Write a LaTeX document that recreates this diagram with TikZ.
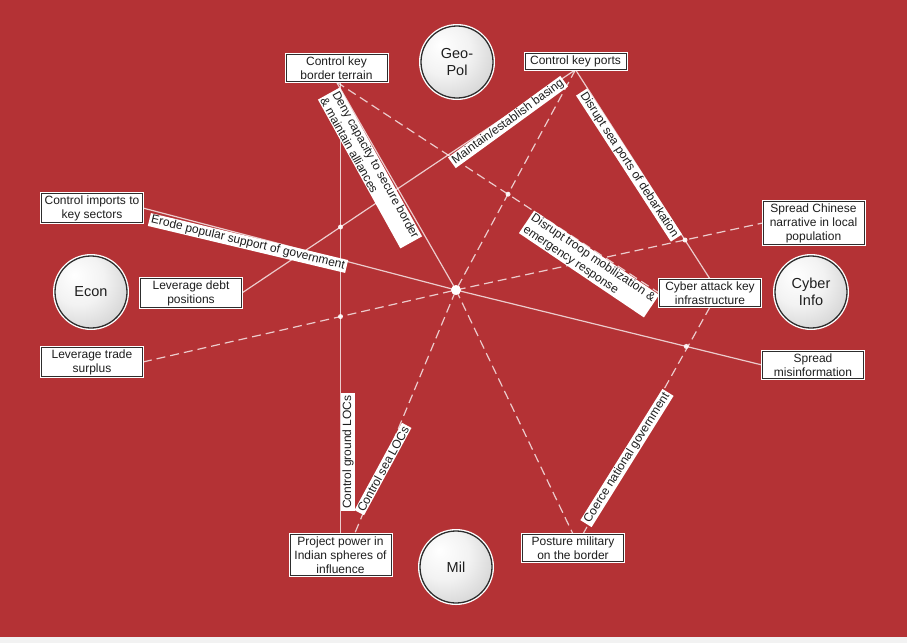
\documentclass[tikz,border=0pt]{standalone}
\usepackage{fontspec}
\setmainfont{Liberation Sans}
\usetikzlibrary{calc}
\definecolor{bgred}{RGB}{180,50,53}
\definecolor{ink}{RGB}{30,30,30}
\definecolor{rim}{RGB}{45,45,45}
\definecolor{stripgray}{RGB}{242,242,242}
\pgfdeclareradialshading{sphere}{\pgfpoint{-12bp}{12bp}}{%
  color(0bp)=(white); color(18bp)=(white!95!black); color(40bp)=(white!80!black);
  color(58bp)=(white!62!black); color(70bp)=(white!55!black)}
\pgfdeclarelayer{paper}
\pgfdeclarelayer{wires}
\pgfdeclarelayer{tags}
\pgfsetlayers{paper,wires,tags,main}
\begin{document}
\begin{tikzpicture}[x=1pt,y=-1pt,
  box/.style={draw=rim, line width=0.8pt, fill=white,
    preaction={draw=white, line width=3pt},
    minimum width=101pt, align=center, text=ink,
    font=\fontsize{12}{14}\selectfont, inner xsep=2pt, inner ysep=2.2pt},
  circ/.style={circle, draw=rim, line width=1.3pt, shading=sphere,
    preaction={draw=white, line width=4pt},
    minimum size=72pt, inner sep=0pt, align=center, text=ink,
    font=\fontsize{14.5}{17}\selectfont},
  elab/.style={fill=white, text=ink, font=\fontsize{12}{14}\selectfont,
    inner xsep=2pt, inner ysep=1pt},
  link/.style={draw=white, draw opacity=0.75, line width=1.2pt},
  dlink/.style={link, dash pattern=on 9pt off 5pt},
  xdot/.style={fill=white, fill opacity=0.9}
]
\useasboundingbox (0,0) rectangle (907,643);
\begin{pgfonlayer}{paper}
\fill[bgred] (0,0) rectangle (907,637);
\fill[stripgray] (0,637) rectangle (907,643);
\end{pgfonlayer}

% nodes
\node[circ] (geo) at (457,62) {Geo-\\Pol};
\node[circ] (econ) at (91,292) {Econ};
\node[circ] (cyber) at (811,292) {Cyber\\Info};
\node[circ] (mil) at (456,567) {Mil};

\node[box] (bt) at (336.5,68) {Control key\\border terrain};
\node[box] (kp) at (575.5,61.5) {Control key ports};
\node[box] (ci) at (92,208) {Control imports to\\key sectors};
\node[box] (ld) at (191,293) {Leverage debt\\positions};
\node[box] (lt) at (92,362) {Leverage trade\\surplus};
\node[box] (sc) at (813.5,223) {Spread Chinese\\narrative in local\\population};
\node[box] (ca) at (710,293) {Cyber attack key\\infrastructure};
\node[box] (sm) at (813,365) {Spread\\misinformation};
\node[box] (pp) at (340.5,555) {Project power in\\Indian spheres of\\influence};
\node[box] (pm) at (573,548) {Posture military\\on the border};

\coordinate (hub) at (456,290);
\coordinate (vt) at (pp.north |- bt.south);

% connectors
\begin{pgfonlayer}{wires}
\draw[link] (bt.south) -- (hub);
\draw[dlink] (hub) -- (pm.north);
\draw[dlink] (bt.south) -- (ca.west);
\draw[link] (kp.south) -- (ld.east);
\draw[dlink] (kp.south) -- (hub) -- ([xshift=14pt]pp.north);
\draw[link] (pp.north) -- (vt);
\draw[link] (ci.east) -- (hub) -- (sm.west);
\draw[dlink] (lt.east) -- (hub) -- (sc.west);
\draw[link] (kp.south) -- (ca.north);
\draw[dlink] (ca.south) -- ([xshift=10pt]pm.north);
\fill[xdot] (intersection of bt.south--ca.west and kp.south--hub) circle (2.5pt);
\fill[xdot] (intersection of kp.south--ld.east and pp.north--vt) circle (2.5pt);
\fill[xdot] (intersection of lt.east--hub and pp.north--vt) circle (2.5pt);
\fill[xdot] (intersection of hub--sc.west and kp.south--ca.north) circle (2.5pt);
\fill[xdot] (intersection of hub--sm.west and ca.south--pm.north) circle (2.5pt);
\fill[white] (hub) circle (5pt);
\end{pgfonlayer}

% connector labels
\begin{pgfonlayer}{tags}
\node[elab, align=left, rotate=-61] (l1) at (370,168) {Deny capacity to secure border\\\& maintain alliances};
\node[elab, rotate=36] (l2) at (508,122) {Maintain/establish basing};
\node[elab, rotate=-57] (l3) at (629,165) {Disrupt sea ports of debarkation};
\node[elab, align=left, rotate=-34] (l4) at (589,264) {Disrupt troop mobilization \&\\emergency response};
\node[elab, rotate=-13.4] (l5) at (248,243) {Erode popular support of government};
\node[elab, rotate=90] (l6) at (348,452) {Control ground LOCs};
\node[elab, rotate=61.5] (l7) at (383,469) {Control sea LOCs};
\node[elab, rotate=58] (l8) at (627,458) {Coerce national government};
\end{pgfonlayer}
\end{tikzpicture}
\end{document}
